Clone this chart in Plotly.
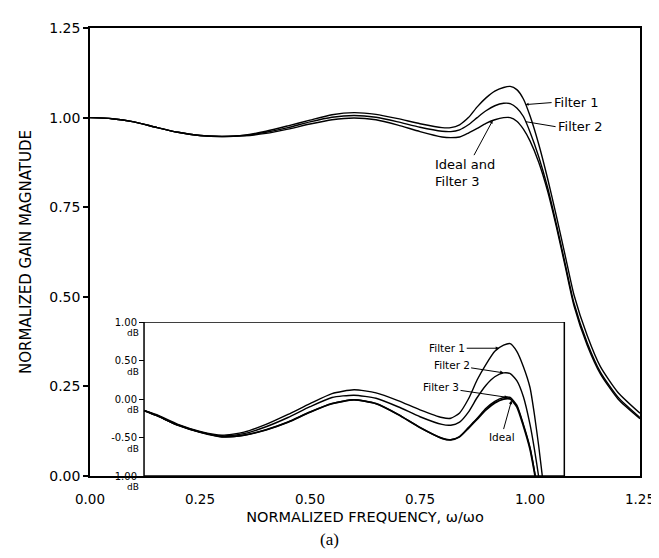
import numpy as np
import plotly.graph_objects as go

# ---------------- data ----------------
main_x = [0.00, 0.05, 0.10, 0.15, 0.20, 0.25, 0.30, 0.35, 0.40, 0.45, 0.50, 0.55,
          0.60, 0.65, 0.70, 0.75, 0.80, 0.82, 0.84, 0.86, 0.88, 0.90, 0.92, 0.94,
          0.955, 0.97, 0.985, 1.00, 1.02, 1.04, 1.06, 1.08, 1.10, 1.13, 1.16, 1.20, 1.25]

main_ideal = [1.000, 0.997, 0.988, 0.973, 0.959, 0.950, 0.947, 0.949, 0.956, 0.968, 0.982, 0.994,
              0.999, 0.994, 0.979, 0.961, 0.946, 0.944, 0.946, 0.957, 0.970, 0.984, 0.994, 1.000,
              1.000, 0.990, 0.968, 0.935, 0.875, 0.795, 0.695, 0.585, 0.475, 0.365, 0.285, 0.215, 0.160]

main_f2 = [1.000, 0.997, 0.988, 0.973, 0.959, 0.950, 0.947, 0.950, 0.959, 0.972, 0.988, 1.001,
           1.006, 1.001, 0.988, 0.973, 0.962, 0.961, 0.966, 0.980, 1.000, 1.019, 1.033, 1.040,
           1.039, 1.027, 1.003, 0.960, 0.890, 0.805, 0.702, 0.592, 0.482, 0.372, 0.290, 0.220, 0.163]

main_f1 = [1.000, 0.997, 0.988, 0.973, 0.959, 0.950, 0.948, 0.951, 0.962, 0.977, 0.993, 1.008,
           1.014, 1.009, 0.997, 0.983, 0.972, 0.972, 0.980, 1.000, 1.030, 1.055, 1.074, 1.084,
           1.087, 1.078, 1.052, 1.005, 0.925, 0.830, 0.725, 0.615, 0.505, 0.392, 0.305, 0.233, 0.175]

inset_x = [0.123, 0.15, 0.20, 0.25, 0.30, 0.35, 0.40, 0.45, 0.50, 0.55, 0.60, 0.65, 0.70,
           0.75, 0.80, 0.82, 0.84, 0.86, 0.88, 0.90, 0.92, 0.94, 0.955, 0.97, 0.985, 1.00,
           1.01, 1.02, 1.03, 1.04]

inset_ideal = [-0.15, -0.21, -0.34, -0.43, -0.49, -0.47, -0.40, -0.30, -0.17, -0.06, -0.01, -0.06, -0.20,
               -0.37, -0.51, -0.53, -0.49, -0.38, -0.26, -0.14, -0.05, 0.00, 0.00, -0.10, -0.35, -0.65,
               -0.95, -1.30, -1.70, -2.10]

inset_f3 = [-0.15, -0.21, -0.34, -0.43, -0.49, -0.47, -0.40, -0.30, -0.17, -0.06, -0.01, -0.06, -0.20,
            -0.37, -0.51, -0.53, -0.49, -0.37, -0.25, -0.12, -0.03, 0.02, 0.02, -0.08, -0.33, -0.63,
            -0.93, -1.28, -1.68, -2.08]

inset_f2 = [-0.15, -0.21, -0.34, -0.43, -0.48, -0.45, -0.36, -0.24, -0.10, 0.02, 0.05, 0.01, -0.10,
            -0.23, -0.33, -0.34, -0.30, -0.17, 0.02, 0.18, 0.29, 0.34, 0.33, 0.24, 0.03, -0.33,
            -0.65, -1.02, -1.45, -1.90]

inset_f1 = [-0.15, -0.20, -0.33, -0.42, -0.47, -0.43, -0.33, -0.20, -0.06, 0.07, 0.12, 0.08, -0.02,
            -0.14, -0.24, -0.25, -0.18, 0.00, 0.25, 0.45, 0.62, 0.70, 0.72, 0.62, 0.42, 0.15,
            -0.20, -0.62, -1.10, -1.60]

x_ticks = [0.00, 0.25, 0.50, 0.75, 1.00, 1.25]
x_tick_labels = ["0.00", "0.25", "0.50", "0.75", "1.00", "1.25"]
y_ticks = [0.00, 0.25, 0.50, 0.75, 1.00, 1.25]
y_tick_labels = ["0.00", "0.25", "0.50", "0.75", "1.00", "1.25"]
db_ticks = [-1.0, -0.5, 0.0, 0.5, 1.0]
db_tick_labels = ["-1.00", "-0.50", "0.00", "0.50", "1.00"]

inset_x_range = [0.1228, 1.078]

# ---------------- figure ----------------
FONT = "DejaVu Sans"
line = dict(color="black", width=1.4)

fig = go.Figure()
for name, ys in [("Ideal and Filter 3", main_ideal), ("Filter 2", main_f2), ("Filter 1", main_f1)]:
    fig.add_trace(go.Scatter(x=main_x, y=ys, mode="lines", line=dict(line, shape="spline", smoothing=0.6),
                             name=name, showlegend=False))

for name, ys, w in [("Ideal", inset_ideal, 1.8), ("Filter 3", inset_f3, 1.4),
                    ("Filter 2", inset_f2, 1.4), ("Filter 1", inset_f1, 1.4)]:
    fig.add_trace(go.Scatter(x=inset_x, y=ys, mode="lines", yaxis="y2",
                             line=dict(color="black", width=w, shape="spline", smoothing=0.6),
                             name=name + " (dB)", showlegend=False))

# inset frame
fig.add_shape(type="rect", xref="x", yref="y2", x0=inset_x_range[0], x1=inset_x_range[1],
              y0=-1, y1=1, line=dict(color="black", width=1.5), layer="above")

annots = []
# main plot labels
annots.append(dict(x=0.99, y=float(np.interp(0.99, main_x, main_f1)), xref="x", yref="y",
                   text="Filter 1", showarrow=True, ax=26, ay=-2, xanchor="left",
                   arrowhead=2, arrowsize=0.6, arrowwidth=1, arrowcolor="black",
                   font=dict(family=FONT, size=13, color="black")))
annots.append(dict(x=0.99, y=float(np.interp(0.99, main_x, main_f2)), xref="x", yref="y",
                   text="Filter 2", showarrow=True, ax=30, ay=5, xanchor="left",
                   arrowhead=0, arrowwidth=1, arrowcolor="black",
                   font=dict(family=FONT, size=13, color="black")))
annots.append(dict(x=0.915, y=float(np.interp(0.915, main_x, main_ideal)), xref="x", yref="y",
                   text="Ideal and<br>Filter 3", showarrow=True, ax=-28, ay=52, align="left",
                   arrowhead=2, arrowsize=0.6, arrowwidth=1, arrowcolor="black",
                   font=dict(family=FONT, size=13, color="black")))
# inset labels
annots.append(dict(x=0.93, y=float(np.interp(0.93, inset_x, inset_f1)), xref="x", yref="y2",
                   text="Filter 1", showarrow=True, ax=-52, ay=0, arrowhead=2, arrowsize=0.7,
                   arrowwidth=1, arrowcolor="black", font=dict(family=FONT, size=10.5, color="black")))
annots.append(dict(x=0.94, y=float(np.interp(0.94, inset_x, inset_f2)), xref="x", yref="y2",
                   text="Filter 2", showarrow=True, ax=-52, ay=-8, arrowhead=2, arrowsize=0.7,
                   arrowwidth=1, arrowcolor="black", font=dict(family=FONT, size=10.5, color="black")))
annots.append(dict(x=0.95, y=float(np.interp(0.95, inset_x, inset_f3)), xref="x", yref="y2",
                   text="Filter 3", showarrow=True, ax=-67, ay=-10, arrowhead=2, arrowsize=0.7,
                   arrowwidth=1, arrowcolor="black", font=dict(family=FONT, size=10.5, color="black")))
annots.append(dict(x=0.958, y=float(np.interp(0.958, inset_x, inset_ideal)), xref="x", yref="y2",
                   text="Ideal", showarrow=True, ax=-10, ay=36, arrowhead=2, arrowsize=0.7,
                   arrowwidth=1, arrowcolor="black", font=dict(family=FONT, size=10.5, color="black")))
# "dB" units under inset tick labels
for v in db_ticks:
    annots.append(dict(x=0.064, y=v, xref="paper", yref="y2", text="dB", showarrow=False,
                       yshift=-11, font=dict(family=FONT, size=9, color="black")))
# figure caption
annots.append(dict(x=0.435, y=-0.168, xref="paper", yref="paper", text="(a)", showarrow=False,
                   font=dict(family="Liberation Serif", size=17, color="black")))

fig.update_layout(
    width=659, height=558,
    margin=dict(l=82, r=17, t=14, b=90),
    paper_bgcolor="white", plot_bgcolor="rgba(0,0,0,0)",
    font=dict(family=FONT, color="black"),
    annotations=annots,
    xaxis=dict(range=[0, 1.25], domain=[0, 1], tickvals=x_ticks, ticktext=x_tick_labels,
               ticks="", ticklabelstandoff=10, tickfont=dict(size=13.5), showgrid=False, zeroline=False,
               showline=True, mirror=True, linecolor="black", linewidth=1.5,
               title=dict(text="NORMALIZED FREQUENCY, ω/ωo", font=dict(size=14.5), standoff=6)),
    yaxis=dict(range=[0, 1.25], domain=[0, 1], tickvals=y_ticks, ticktext=y_tick_labels,
               ticks="outside", ticklen=5, tickwidth=1.5, tickcolor="black",
               tickfont=dict(size=14), showgrid=False, zeroline=False,
               showline=True, mirror=True, linecolor="black", linewidth=1.5,
               title=dict(text="NORMALIZED GAIN MAGNATUDE", font=dict(size=15), standoff=14)),
    yaxis2=dict(range=[-1, 1], domain=[0, 156 / 454], anchor="free", position=0.0982,
                tickvals=db_ticks, ticktext=db_tick_labels, ticks="outside", ticklen=5,
                tickwidth=1.2, tickcolor="black", tickfont=dict(size=10),
                showgrid=False, zeroline=False, showline=False),
)

fig.write_html("out.html")
